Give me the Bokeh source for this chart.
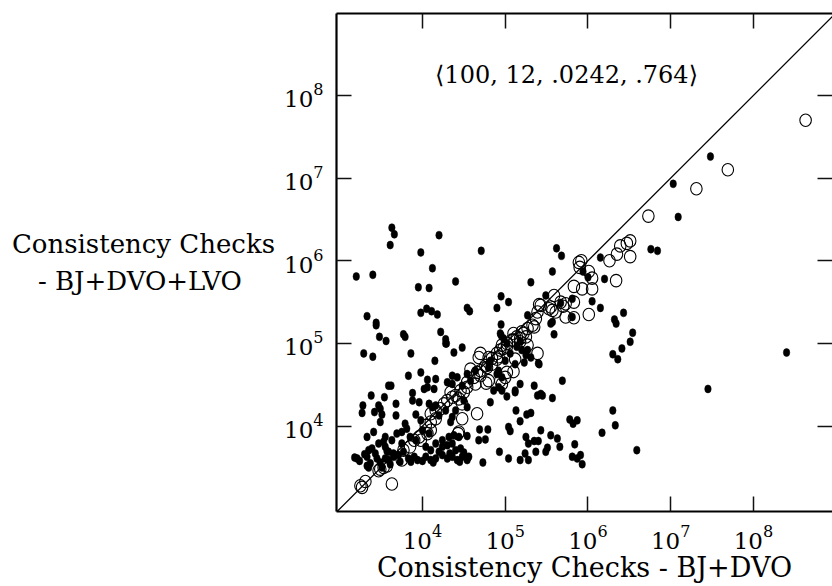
import numpy as np
from bokeh.plotting import figure
from bokeh.models import FixedTicker, LogAxis, Label, Slope, ColumnDataSource
from bokeh.embed import file_html
from bokeh.resources import INLINE

# ---- data (log10 of the values) ----
# filled dots
dot_x_log = [
    7.48, 7.03, 7.09, 6.76, 6.84, 6.15, 6.20, 5.94, 6.00, 5.81, 6.05, 6.15, 6.43, 6.32, 6.34, 6.54,
    6.51, 6.41, 6.30, 6.36, 8.40, 7.45, 6.30, 6.33, 6.17, 6.59, 5.84, 5.81, 5.87, 5.91, 5.93,
    5.02, 5.12, 5.39, 5.45, 5.57, 4.82, 5.13, 5.26, 5.31, 5.18, 5.04, 5.06, 5.43, 5.78, 5.82, 5.87,
    4.69, 4.79, 4.54, 4.68, 4.76, 5.25, 5.28, 5.35, 5.40, 5.55, 5.63, 5.66, 4.93, 5.04, 5.18, 5.28,
    5.24, 5.37, 5.49, 5.51, 4.56, 4.54, 4.73,
    3.38, 3.54, 3.88, 3.88, 3.28, 3.27, 3.47, 3.49, 3.68, 3.68, 3.42, 3.51, 3.49, 3.96, 4.08, 4.16,
    3.79, 3.92, 3.98, 3.41, 3.33, 3.53, 3.55, 3.69, 3.75, 3.81, 3.85, 3.59, 3.65, 3.71, 3.35, 3.33,
    3.21, 3.43, 3.45, 3.49, 3.51, 3.33, 3.35, 3.55, 3.59, 3.65, 3.83, 3.90, 3.94, 4.04, 4.10, 4.16,
    4.24, 4.30, 4.36, 4.42, 4.48, 4.54, 4.16, 4.24, 4.30, 4.36, 4.40, 4.46, 4.04, 4.10, 4.24, 4.32,
    4.38, 4.44,
    3.29, 3.40, 3.86, 4.15, 4.28, 4.38, 4.48, 3.83, 3.98, 3.59, 3.62, 4.06, 4.16, 4.14, 4.30, 4.36,
    4.42, 5.12, 5.23, 5.31, 5.41, 5.18, 5.12, 5.35, 5.43, 5.69,
    3.20, 3.40, 3.63, 3.66, 3.61, 4.20, 3.98, 4.71, 4.12, 3.95, 4.08, 4.40, 3.33, 3.44, 3.44, 3.98,
    4.05, 4.11, 4.18, 4.54, 4.57, 3.48, 3.56, 3.77, 3.79, 4.22, 4.28, 4.29, 4.90, 4.95, 5.04, 4.95,
    4.95, 5.31, 5.49, 5.57, 5.62, 5.68, 5.27, 5.59, 5.55, 5.57, 5.67,
    5.40, 4.94, 4.98, 5.02, 5.27, 5.25, 4.92, 4.96, 4.82, 4.80, 4.64, 4.58, 4.54, 4.92, 4.96, 5.81,
    4.02, 4.06, 4.36, 4.48,
    4.12, 4.20, 4.00, 4.28, 4.34, 4.40, 4.08, 3.92, 3.75, 3.63, 3.55, 3.47, 4.36, 4.50, 4.54, 4.86,
    4.90, 5.00, 5.06, 5.14, 5.18, 5.20,
    3.18, 3.24, 3.30, 3.37, 3.39, 3.57, 3.61, 3.73, 3.77, 3.86, 4.00, 4.13, 4.20, 4.33, 4.45, 4.50,
]
dot_y_log = [
    7.26, 6.93, 6.53, 6.14, 6.12, 6.04, 5.78, 5.87, 5.80, 5.54, 5.51, 5.43, 5.37, 5.29, 5.24, 5.13,
    5.02, 4.94, 4.87, 4.81, 4.89, 4.45, 4.19, 4.01, 3.92, 3.71, 3.78, 3.63, 3.61, 3.65, 3.54,
    4.36, 4.41, 4.37, 4.37, 4.34, 4.29, 4.19, 4.14, 4.16, 4.06, 3.99, 3.94, 3.95, 4.08, 4.03, 4.07,
    3.96, 3.96, 3.88, 3.83, 3.84, 3.87, 3.79, 3.82, 3.82, 3.89, 3.85, 3.75, 3.69, 3.61, 3.59, 3.59,
    3.67, 3.69, 3.69, 3.74, 3.63, 3.59, 3.56,
    4.37, 4.35, 4.40, 4.31, 4.25, 4.16, 4.25, 4.21, 4.27, 4.13, 4.17, 4.14, 4.05, 4.29, 4.27, 4.25,
    4.03, 4.14, 4.07, 3.93, 3.87, 3.81, 3.75, 3.91, 3.93, 3.97, 3.87, 3.69, 3.67, 3.65, 3.71, 3.63,
    3.61, 3.67, 3.61, 3.56, 3.50, 3.52, 3.50, 3.61, 3.59, 3.63, 3.61, 3.63, 3.59, 3.63, 3.59, 3.61,
    3.65, 3.61, 3.63, 3.59, 3.63, 3.61, 3.79, 3.75, 3.77, 3.79, 3.71, 3.73, 3.75, 3.71, 3.83, 3.87,
    3.89, 3.87,
    4.88, 4.84, 4.88, 4.79, 5.00, 4.89, 4.95, 4.61, 4.65, 4.49, 4.49, 4.56, 4.57, 4.45, 4.53, 4.61,
    4.59, 4.75, 4.77, 4.83, 4.75, 4.51, 4.43, 4.49, 4.39, 4.55,
    5.81, 5.83, 6.40, 6.32, 6.19, 6.31, 6.10, 6.12, 5.91, 5.68, 5.67, 5.75, 5.33, 5.25, 5.22, 5.37,
    5.42, 5.39, 5.35, 5.43, 5.39, 5.08, 5.03, 5.11, 5.08, 5.14, 5.05, 5.00, 5.43, 5.57, 5.50, 5.23,
    5.10, 5.74, 5.58, 5.87, 6.15, 6.06, 5.34, 5.11, 5.24, 5.26, 5.49,
    4.76, 5.12, 5.06, 5.00, 4.92, 4.86, 4.67, 4.59, 4.79, 4.71, 4.67, 4.55, 4.63, 4.47, 4.43, 5.32,
    4.45, 4.47, 4.51, 4.49,
    4.23, 4.13, 3.95, 4.19, 4.05, 4.19, 3.91, 3.83, 3.79, 3.83, 3.87, 3.79, 4.11, 4.31, 4.23, 4.43,
    4.63, 4.79, 4.88, 4.96, 5.02, 4.92,
    3.62, 3.58, 3.66, 3.55, 3.73, 3.70, 3.54, 3.57, 3.69, 3.57, 3.58, 3.56, 3.69, 3.67, 3.57, 3.68,
]
# open circles
circle_x_log = [
    8.63, 7.69, 7.31, 6.73, 6.51, 6.47, 6.39, 6.35, 6.26, 6.51, 6.34, 5.92, 5.90, 6.01, 6.05, 5.83,
    5.93, 6.05, 5.83, 6.01, 5.83, 5.89,
    5.73, 5.70, 5.73, 5.59, 5.55, 5.61, 5.41, 5.39, 5.37, 5.35, 5.27, 5.20, 5.14, 5.10, 5.02, 4.94,
    4.90, 4.80, 4.70, 5.39,
    5.67, 5.57, 5.53, 5.43, 5.33, 5.22, 5.25, 5.18, 5.10, 5.08, 4.96, 4.92, 4.84, 4.68, 4.76, 4.70,
    4.58, 4.62, 4.54, 4.64, 4.80, 5.00, 4.96, 5.12,
    5.10, 4.66, 4.77, 4.43, 4.22, 4.26, 4.30, 4.36, 4.40, 4.46, 4.54, 4.70, 4.66, 4.78, 4.84, 4.90,
    4.98, 5.02, 5.18, 5.27, 4.94, 5.02, 4.10, 4.06, 3.98, 3.90, 3.85, 3.77,
    3.25, 3.31, 3.27, 3.63, 3.47, 3.53, 3.57, 3.75, 3.96, 4.04, 4.10, 4.16, 4.10, 4.16, 4.44, 4.34,
    4.50, 4.48, 4.44, 4.48, 3.49,
]
circle_y_log = [
    7.70, 7.10, 6.87, 6.54, 6.24, 6.21, 6.18, 6.08, 6.00, 6.05, 5.76, 6.00, 5.92, 5.87, 5.79, 5.69,
    5.66, 5.66, 5.50, 5.35, 5.31, 5.98,
    5.48, 5.45, 5.32, 5.58, 5.44, 5.38, 5.47, 5.38, 5.30, 5.20, 5.18, 5.14, 5.08, 5.04, 4.96, 4.92,
    4.88, 4.83, 4.88, 4.88,
    5.50, 5.40, 5.42, 5.46, 5.22, 5.12, 5.08, 5.06, 5.12, 5.04, 4.98, 4.84, 4.82, 4.83, 4.73, 4.67,
    4.69, 4.59, 4.53, 4.51, 4.55, 4.59, 4.51, 4.81,
    4.66, 4.15, 4.52, 3.91, 4.21, 4.27, 4.31, 4.35, 4.37, 4.43, 4.47, 4.61, 4.65, 4.71, 4.75, 4.81,
    4.94, 5.00, 5.02, 4.98, 4.55, 4.65, 3.95, 3.91, 3.83, 3.83, 3.75, 3.71,
    3.28, 3.33, 3.26, 3.30, 3.46, 3.50, 3.52, 3.59, 3.87, 4.01, 4.05, 4.09, 4.15, 4.19, 4.33, 4.41,
    4.41, 4.27, 3.93, 4.09, 3.48,
]

tick_values = [1e4, 1e5, 1e6, 1e7, 1e8]
tick_labels = ["10\u2074", "10\u2075", "10\u2076", "10\u2077", "10\u2078"]
x_title = "Consistency Checks - BJ+DVO"
# second line padded with no-break spaces so it sits centred under the first
y_title = "Consistency Checks\n- BJ+DVO+LVO\u00a0\u00a0\u00a0\u00a0"
annotation_text = "\u27e8100, 12, .0242, .764\u27e9"
x_range_log = (2.961, 8.955)
y_range_log = (2.968, 8.990)

FONT = "DejaVu Serif"

p = figure(
    width=832, height=586,
    x_axis_type="log", y_axis_type="log",
    x_range=(10 ** x_range_log[0], 10 ** x_range_log[1]),
    y_range=(10 ** y_range_log[0], 10 ** y_range_log[1]),
    output_backend="svg", toolbar_location=None,
    min_border_left=336, min_border_right=0, min_border_top=13, min_border_bottom=75,
    background_fill_color="white", border_fill_color="white",
)
p.outline_line_color = None
p.grid.visible = False

ticker = FixedTicker(ticks=tick_values)
overrides = {str(int(v)): t for v, t in zip(tick_values, tick_labels)}
blank = {str(int(v)): "" for v in tick_values}


def style_axis(ax, show_labels, show_line=True):
    ax.ticker = ticker
    ax.major_tick_in = 15
    ax.major_tick_out = 0
    ax.minor_tick_line_color = None
    ax.major_tick_line_color = "#111111"
    ax.major_tick_line_width = 1.5
    if show_line:
        ax.axis_line_color = "black"
        ax.axis_line_width = 2.2
    else:
        ax.axis_line_color = None
    ax.major_label_text_font = FONT
    ax.major_label_text_color = "black"
    if show_labels:
        ax.major_label_overrides = overrides
        ax.major_label_text_font_size = "23px"
    else:
        ax.major_label_overrides = blank
        ax.major_label_text_font_size = "2px"
        ax.major_label_text_color = None
        ax.major_label_standoff = 0


xa = p.xaxis[0]
ya = p.yaxis[0]
style_axis(xa, True)
style_axis(ya, True)
xa.major_label_standoff = 13
ya.major_label_standoff = 13
xa.axis_label = x_title
xa.axis_label_text_font = FONT
xa.axis_label_text_font_size = "27px"
xa.axis_label_text_font_style = "normal"
xa.axis_label_text_color = "black"
xa.axis_label_standoff = 0

ya.axis_label = y_title
ya.axis_label_orientation = "horizontal"
ya.axis_label_text_align = "center"
ya.axis_label_text_font = FONT
ya.axis_label_text_font_size = "26px"
ya.axis_label_text_font_style = "normal"
ya.axis_label_text_color = "black"
ya.axis_label_text_line_height = 1.25
ya.axis_label_standoff = 6

top_ax = LogAxis()
style_axis(top_ax, False)
p.add_layout(top_ax, "above")
right_ax = LogAxis()
style_axis(right_ax, False, show_line=False)
p.add_layout(right_ax, "right")

# diagonal y = x
p.add_layout(Slope(gradient=1, y_intercept=0, line_color="black", line_width=1.3))

dots = ColumnDataSource(dict(x=10 ** np.array(dot_x_log), y=10 ** np.array(dot_y_log)))
circles = ColumnDataSource(dict(x=10 ** np.array(circle_x_log), y=10 ** np.array(circle_y_log)))

p.ellipse(x="x", y="y", width=6.5, height=8, width_units="screen", height_units="screen",
          source=dots, fill_color="black", line_color="black", line_width=0.5)
p.ellipse(x="x", y="y", width=11.5, height=12.5, width_units="screen", height_units="screen",
          source=circles, fill_color=None, line_color="black", line_width=1.1)

p.add_layout(Label(x=566 - 336, y=511 - 74, x_units="screen", y_units="screen",
                   text=annotation_text, text_align="center", text_baseline="middle",
                   text_font=FONT, text_font_size="24px", text_color="black"))

open("out.html", "w").write(file_html(p, INLINE))
